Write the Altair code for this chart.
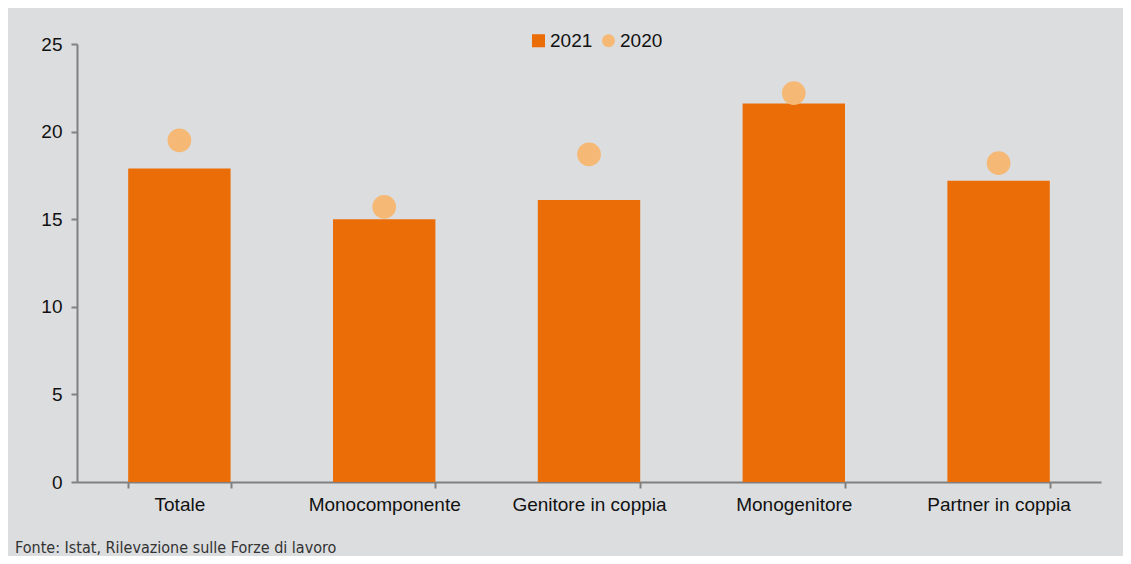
import altair as alt
import pandas as pd

categories = ["Totale", "Monocomponente", "Genitore in coppia", "Monogenitore", "Partner in coppia"]
v2021 = [17.9, 15.0, 16.1, 21.6, 17.2]
v2020 = [19.5, 15.7, 18.7, 22.2, 18.2]
series = ["2021", "2020"]
colors = ["#EB6D08", "#F5B875"]
footer = "Fonte: Istat, Rilevazione sulle Forze di lavoro"

df = pd.DataFrame({
    "cat": categories * 2,
    "serie": ["2021"] * 5 + ["2020"] * 5,
    "val": v2021 + v2020,
})

W, H = 1024, 438
FONT = "Liberation Sans"
FS = 19

color = alt.Color("serie:N", scale=alt.Scale(domain=series, range=colors),
                  legend=alt.Legend(title=None, orient="none", legendX=452, legendY=-13,
                                    direction="horizontal", labelFontSize=FS, labelFont=FONT,
                                    labelColor="#111", symbolSize=170, symbolOpacity=1,
                                    columnPadding=6, labelOffset=2, symbolStrokeWidth=0))
shape = alt.Shape("serie:N", scale=alt.Scale(domain=series, range=["square", "circle"]), legend=None)

x = alt.X("cat:N", sort=categories, title=None,
          scale=alt.Scale(paddingInner=0.5, paddingOuter=0.25),
          axis=alt.Axis(labelAngle=0, labelFontSize=FS, labelFont=FONT, labelColor="#111",
                        tickBand="extent", domainColor="#808080", tickColor="#808080",
                        domainWidth=2, tickWidth=2, tickSize=6, labelPadding=7))
y = alt.Y("val:Q", title=None, scale=alt.Scale(domain=[0, 25]),
          axis=alt.Axis(values=[0, 5, 10, 15, 20, 25], grid=False, labelFontSize=FS, labelFont=FONT,
                        labelColor="#111", domainColor="#808080", tickColor="#808080",
                        domainWidth=2, tickWidth=2, tickSize=6, labelPadding=9))

base = alt.Chart(df)
bars = base.transform_filter(alt.datum.serie == "2021").mark_bar(opacity=1).encode(
    x=x, y=y, color=color, shape=shape)
dots = base.transform_filter(alt.datum.serie == "2020").mark_point(filled=True, size=560, opacity=1).encode(
    x=x, y=y, color=color, shape=shape)
note = alt.Chart(pd.DataFrame({"t": [footer]})).mark_text(
    align="left", baseline="middle", fontSize=16, font="DejaVu Sans Condensed", color="#333"
).encode(text="t:N", x=alt.value(-62), y=alt.value(H + 66))

chart = alt.layer(bars, dots, note).properties(
    width=W, height=H, background="#DCDDDF",
    autosize=alt.AutoSizeParams(type="none"),
    padding={"left": 69, "top": 36, "right": 22, "bottom": 74},
).configure_view(stroke=None).resolve_scale(color="shared")

chart.save("out.html", embed_options={"renderer": "svg", "actions": False})
